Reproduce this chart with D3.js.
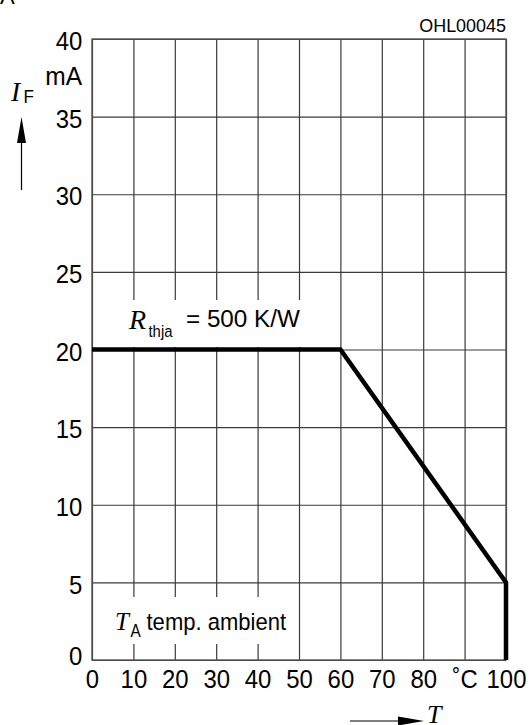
<!DOCTYPE html>
<html>
<head>
<meta charset="utf-8">
<script src="https://cdn.jsdelivr.net/npm/d3@7/dist/d3.min.js"></script>
<style>
  html, body { margin: 0; padding: 0; background: #fff; }
  svg { display: block; }
</style>
</head>
<body>
<svg id="chart" width="530" height="725"></svg>
<script>
// ---- data ----
const tempC = [0, 60, 100, 100];          // ambient temperature, °C
const currentMA = [20, 20, 5, 0];         // max forward current, mA
const xTicks = [0, 10, 20, 30, 40, 50, 60, 70, 80, 90, 100];
const xTickLabels = ["0", "10", "20", "30", "40", "50", "60", "70", "80", "˚C", "100"];
const yTicks = [0, 5, 10, 15, 20, 25, 30, 35, 40];
const yTickLabels = ["0", "5", "10", "15", "20", "25", "30", "35", "40"];

const SANS = "'Liberation Sans', Arial, Helvetica, sans-serif";
const SERIF = "'Liberation Serif', 'Times New Roman', serif";

const svg = d3.select("#chart");
const margin = { left: 92, top: 39, right: 24, bottom: 65 };
const W = 530, H = 725;
const w = W - margin.left - margin.right;   // 414
const h = H - margin.top - margin.bottom;   // 621

const x = d3.scaleLinear().domain([0, 100]).range([0, w]);
const y = d3.scaleLinear().domain([0, 40]).range([h, 0]);

const g = svg.append("g").attr("transform", `translate(${margin.left},${margin.top})`);

const GRID = "#3a3a3a";

// x grid + labels
const xAxis = g.append("g")
  .attr("transform", `translate(0,${h})`)
  .call(d3.axisBottom(x).tickValues(xTicks).tickSize(-h).tickSizeOuter(0)
    .tickFormat((d, i) => xTickLabels[i]));
xAxis.select(".domain").remove();
xAxis.selectAll(".tick line").attr("stroke", GRID).attr("stroke-width", 1.2);
xAxis.selectAll(".tick text")
  .attr("y", 28).attr("dy", 0)
  .attr("fill", "#000")
  .style("font-family", SANS).style("font-size", "26px")
  .attr("transform", "scale(0.92,1)");

// y grid + labels
const yAxis = g.append("g")
  .call(d3.axisLeft(y).tickValues(yTicks).tickSize(-w).tickSizeOuter(0)
    .tickFormat((d, i) => yTickLabels[i]));
yAxis.select(".domain").remove();
yAxis.selectAll(".tick line").attr("stroke", GRID).attr("stroke-width", 1.2);
yAxis.selectAll(".tick text")
  .attr("x", -10.5).attr("dy", "0.41em")
  .attr("fill", "#000")
  .style("font-family", SANS).style("font-size", "26px")
  .attr("transform", "scale(0.92,1)");
yAxis.selectAll(".tick text").filter(d => d === 0).attr("dy", "0.17em");

// frame
g.append("rect").attr("x", 0).attr("y", 0).attr("width", w).attr("height", h)
  .attr("fill", "none").attr("stroke", "#555").attr("stroke-width", 1.4);

// white label backgrounds (interrupt grid lines)
g.append("rect").attr("x", 3).attr("y", 300 - margin.top).attr("width", x(55) - 3)
  .attr("height", 47).attr("fill", "#fff");
g.append("rect").attr("x", 3).attr("y", 597 - margin.top).attr("width", x(45) - 3)
  .attr("height", 47).attr("fill", "#fff");

// curve
const line = d3.line().x((d, i) => x(tempC[i])).y((d, i) => y(currentMA[i]));
g.append("path").datum(tempC).attr("d", line)
  .attr("fill", "none").attr("stroke", "#000").attr("stroke-width", 4.5)
  .attr("stroke-linejoin", "miter");

// helper for text
function txt(str, px, py, opts) {
  const o = Object.assign({ family: SANS, size: 25, sx: 1, anchor: "start", style: "normal" }, opts || {});
  svg.append("g").attr("transform", `translate(${px},${py})`)
    .append("text")
    .attr("transform", `scale(${o.sx},1)`)
    .attr("text-anchor", o.anchor)
    .style("font-family", o.family).style("font-size", o.size + "px")
    .style("font-style", o.style)
    .attr("fill", "#000")
    .text(str);
}

// fragment of a text cut off at the top
txt("A", 0, 4, { size: 22 });

// code
txt("OHL00045", 506, 32, { size: 18.5, sx: 0.97, anchor: "end" });

// y axis title
txt("I", 11, 101, { family: SERIF, size: 27.5, style: "italic" });
txt("F", 23.5, 103, { size: 18, sx: 0.95 });
txt("mA", 82, 85, { size: 25, sx: 0.98, anchor: "end" });
svg.append("line").attr("x1", 21.5).attr("x2", 21.5).attr("y1", 190).attr("y2", 140)
  .attr("stroke", "#000").attr("stroke-width", 1.2);
svg.append("path").attr("d", "M17,143 L26,143 L21.5,117 Z").attr("fill", "#000");

// x axis title
svg.append("line").attr("x1", 350).attr("x2", 400).attr("y1", 721).attr("y2", 721)
  .attr("stroke", "#000").attr("stroke-width", 1.2);
svg.append("path").attr("d", "M398,716.5 L398,725.5 L424,721 Z").attr("fill", "#000");
txt("T", 427, 723, { family: SERIF, size: 26, style: "italic" });

// R_thja label
txt("R", 129, 329, { family: SERIF, size: 28, style: "italic" });
txt("thja", 148.5, 337, { size: 16.5, sx: 0.9 });
txt("= 500 K/W", 186, 327, { size: 24.5, sx: 0.99 });

// T_A label
txt("T", 115, 629.5, { family: SERIF, size: 25, style: "italic" });
txt("A", 130.5, 637, { size: 18, sx: 0.85 });
txt("temp. ambient", 146.5, 630, { size: 24.5, sx: 0.9 });
</script>
</body>
</html>
